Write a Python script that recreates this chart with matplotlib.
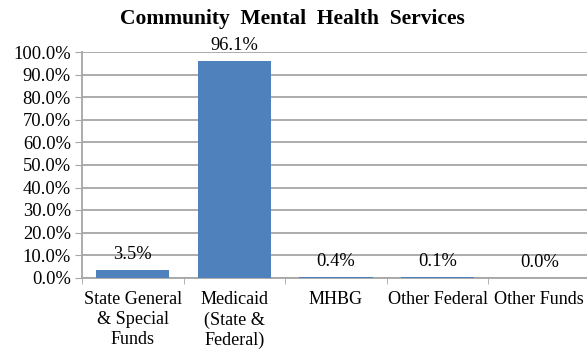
import matplotlib
matplotlib.use("Agg")
import matplotlib.pyplot as plt
import numpy as np

categories = ["State General\n& Special\nFunds", "Medicaid\n(State &\nFederal)", "MHBG", "Other Federal", "Other Funds"]
values = [3.5, 96.1, 0.4, 0.1, 0.0]
labels = ["3.5%", "96.1%", "0.4%", "0.1%", "0.0%"]
yticks = [0, 10, 20, 30, 40, 50, 60, 70, 80, 90, 100]

plt.rcParams['font.family'] = ['Liberation Serif', 'DejaVu Serif']

W, H = 587, 351
fig = plt.figure(figsize=(W/100, H/100), dpi=100)
left, right, top, bottom = 82, 590, 52.5, 277.5
ax = fig.add_axes([left/W, 1-bottom/H, (right-left)/W, (bottom-top)/H])

x = np.arange(len(values))
bar_color = "#4F81BD"
ax.bar(x, values, width=0.72, color=bar_color, zorder=3)
ax.set_xlim(-0.5, len(values)-0.5)
ax.set_ylim(0, 100)
ax.set_yticks(yticks)
ax.set_yticklabels([f"{v:.1f}%" for v in yticks], fontsize=13.3)
ax.yaxis.grid(True, color="#A6A6A6", linewidth=1.3, zorder=0)
ax.tick_params(axis='y', length=5, color="#A6A6A6", pad=3, labelcolor="black")

ax.set_xticks(x)
ax.set_xticklabels(categories, fontsize=13.1, linespacing=1.22)
ax.set_xticks(np.arange(len(values)+1) - 0.5, minor=True)
ax.tick_params(axis='x', which='major', length=0, pad=10)
ax.tick_params(axis='x', which='minor', length=4, color="#A6A6A6", direction='out')

for s in ['top', 'right']:
    ax.spines[s].set_visible(False)
for s in ['left', 'bottom']:
    ax.spines[s].set_color("#A6A6A6")
    ax.spines[s].set_linewidth(1.3)

for xi, v, lab in zip(x, values, labels):
    ax.annotate(lab, (xi, v), xytext=(0, 5), textcoords='offset points',
                ha='center', va='bottom', fontsize=13.3)

fig.text(292/W, 1-19/H, "Community  Mental  Health  Services", ha='center', va='center',
         fontsize=15.5, fontweight='bold')

fig.savefig("out.png", dpi=100)
